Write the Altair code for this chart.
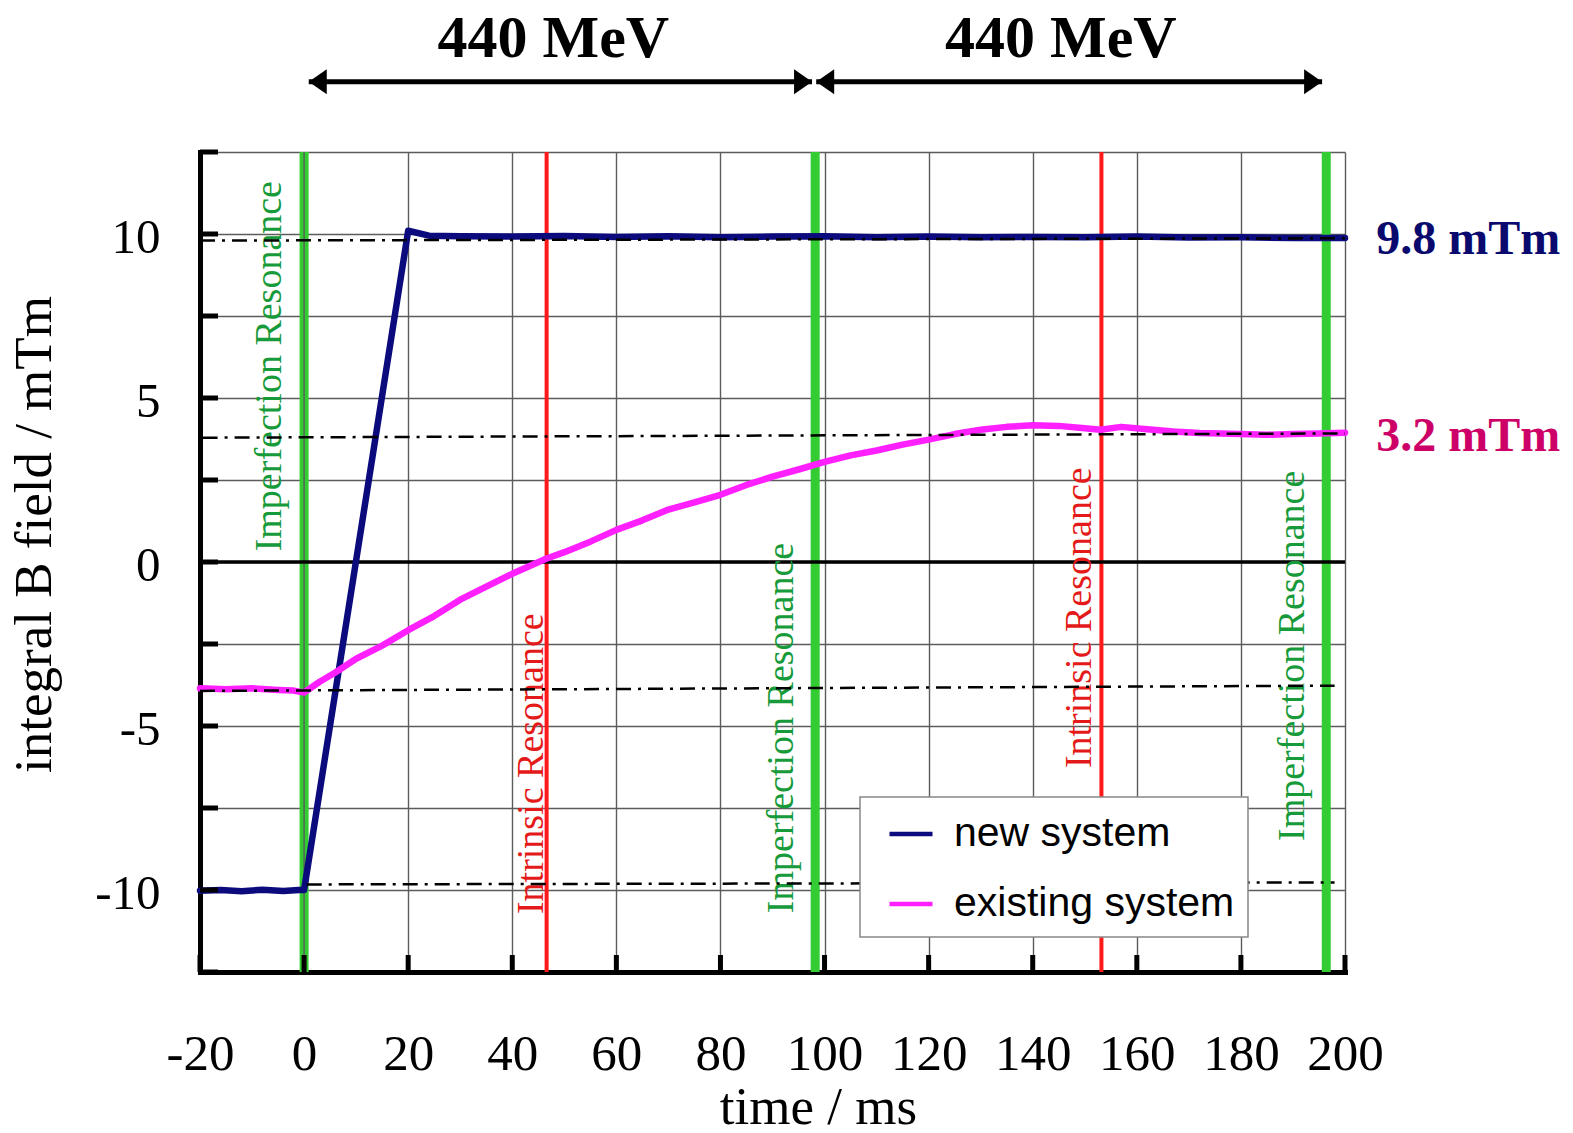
import altair as alt
import pandas as pd

# ---------------- data ----------------
new_t = [-20, -16, -12, -8, -4, -1, 0, 20, 24, 30, 40, 50, 60, 70, 80, 90, 100,
         110, 120, 130, 140, 150, 160, 170, 180, 190, 200]
new_v = [-10.02, -10.0, -10.04, -9.99, -10.03, -10.0, -10.0, 10.1, 9.95, 9.93, 9.92,
         9.94, 9.91, 9.93, 9.9, 9.92, 9.93, 9.9, 9.92, 9.9, 9.91, 9.9, 9.92, 9.89, 9.9,
         9.88, 9.88]

old_t = [-20, -15, -10, -5, -2, 0, 3, 6, 10, 15, 20, 25, 30, 35, 40, 46.5, 50, 55,
         60, 65, 70, 75, 80, 85, 90, 95, 100, 105, 110, 115, 120, 125, 130, 135, 140,
         145, 150, 153, 157, 162, 167, 172, 180, 185, 190, 195, 200]
old_v = [-3.85, -3.88, -3.85, -3.9, -3.92, -3.98, -3.65, -3.37, -2.95, -2.55, -2.08,
         -1.65, -1.15, -0.75, -0.36, 0.1, 0.3, 0.62, 0.98, 1.27, 1.6, 1.82, 2.05, 2.35,
         2.6, 2.82, 3.05, 3.25, 3.4, 3.58, 3.73, 3.9, 4.03, 4.12, 4.17, 4.15, 4.08, 4.03,
         4.12, 4.05, 3.98, 3.93, 3.9, 3.88, 3.9, 3.92, 3.94]

series_names = ["new system", "existing system"]
series_colors = ["#0b0b7d", "#ff1fff"]

green_t = [0, 98.2, 196.4]
red_t = [46.6, 153.2]

ref_x1 = [-20, -19.5, -20, 0.5]
ref_x2 = [200, 200, 198, 198]
ref_y1 = [9.80, 3.79, -3.93, -9.83]
ref_y2 = [9.87, 3.92, -3.77, -9.77]

imp_labels = ["Imperfection Resonance", "Imperfection Resonance", "Imperfection Resonance"]
imp_label_t = [-4.4, 94.0, 192.1]
imp_label_v = [5.97, -5.06, -2.86]
int_labels = ["Intrinsic Resonance", "Intrinsic Resonance"]
int_label_t = [45.9, 151.2]
int_label_v = [-6.15, -1.70]

x_ticks = [-20, 0, 20, 40, 60, 80, 100, 120, 140, 160, 180, 200]
y_ticks = [-12.5, -10, -7.5, -5, -2.5, 0, 2.5, 5, 7.5, 10, 12.5]

energy_labels = ["440 MeV", "440 MeV"]
energy_t = [47.9, 145.4]
energy_v = [15.4, 15.4]
arrow_t1 = [0.9, 98.4]
arrow_t2 = [97.6, 195.6]
arrow_v = [14.64, 14.64]

end_labels = ["9.8 mTm", "3.2 mTm"]
end_t = [206.0, 206.0]
end_v = [9.38, 3.38]
end_colors = ["#0a0a6e", "#cc0066"]

# ---------------- style ----------------
W, H = 1145, 820
SERIF = "Liberation Serif"
SANS = "Liberation Sans"
GRID = "#5c5c5c"
GREEN = "#33cc33"
GREEN_TXT = "#179a3a"
RED = "#ff1a1a"
RED_TXT = "#e41a1a"

xs = alt.Scale(domain=[-20, 200], nice=False, zero=False)
ys = alt.Scale(domain=[-12.5, 12.5], nice=False, zero=False)

x_axis = alt.Axis(
    values=x_ticks, grid=True, gridColor=GRID, gridWidth=1.4,
    domain=True, domainColor="black", domainWidth=5, domainCap="square",
    ticks=False, tickSize=0,
    labelFont=SERIF, labelFontSize=51, labelColor="black", labelPadding=97,
    labelBaseline="alphabetic", labelExpr="'' + datum.value",
    labelFlush=False, labelOverlap=False,
    title="time / ms", titleFont=SERIF, titleFontSize=53, titleFontWeight="normal",
    titleColor="black", titleX=618, titleY=151, titleBaseline="alphabetic",
    titleAlign="center",
)
y_axis = alt.Axis(
    values=y_ticks, grid=True, gridColor=GRID, gridWidth=1.4,
    domain=True, domainColor="black", domainWidth=5, domainCap="square",
    ticks=False, tickSize=0,
    labelFont=SERIF, labelFontSize=49, labelColor="black", labelPadding=40,
    labelBaseline="middle", labelOffset=3,
    labelExpr="datum.value % 5 == 0 ? '' + datum.value : ''",
    labelFlush=False, labelOverlap=False,
    title="integral B field / mTm", titleFont=SERIF, titleFontSize=53,
    titleFontWeight="normal", titleColor="black", titleAngle=270,
    titleX=-150, titleY=382, titleBaseline="alphabetic", titleAlign="center",
)


def X(field):
    return alt.X(field, scale=xs, axis=x_axis)


def Y(field):
    return alt.Y(field, scale=ys, axis=y_axis)


# ---------------- tables ----------------
curve_df = pd.DataFrame({
    "t": new_t + old_t,
    "v": new_v + old_v,
    "series": [series_names[0]] * len(new_t) + [series_names[1]] * len(old_t),
})
green_df = pd.DataFrame({"t": green_t})
red_df = pd.DataFrame({"t": red_t})
ref_df = pd.DataFrame({"t": ref_x1, "t2": ref_x2, "v": ref_y1, "v2": ref_y2})
imp_df = pd.DataFrame({"label": imp_labels, "t": imp_label_t, "v": imp_label_v})
int_df = pd.DataFrame({"label": int_labels, "t": int_label_t, "v": int_label_v})
xt_df = pd.DataFrame({"t": x_ticks})
yt_df = pd.DataFrame({"v": y_ticks})
energy_df = pd.DataFrame({"label": energy_labels, "t": energy_t, "v": energy_v})
arrow_df = pd.DataFrame({"t": arrow_t1, "t2": arrow_t2, "v": arrow_v})
head_r_df = pd.DataFrame({"t": arrow_t2, "v": arrow_v})
head_l_df = pd.DataFrame({"t": arrow_t1, "v": arrow_v})
end_df0 = pd.DataFrame({"label": end_labels[:1], "t": end_t[:1], "v": end_v[:1]})
end_df1 = pd.DataFrame({"label": end_labels[1:], "t": end_t[1:], "v": end_v[1:]})
zero_df = pd.DataFrame({"v": [0]})
grid0_df = pd.DataFrame({"t": [0]})

# ---------------- layers ----------------
green_rules = alt.Chart(green_df).mark_rule(color=GREEN, strokeWidth=9).encode(x=X("t:Q"))
red_rules = alt.Chart(red_df).mark_rule(color=RED, strokeWidth=4).encode(x=X("t:Q"))
grid0 = alt.Chart(grid0_df).mark_rule(color=GRID, strokeWidth=1.4).encode(x=X("t:Q"))
zero_line = alt.Chart(zero_df).mark_rule(color="black", strokeWidth=3.5).encode(y=Y("v:Q"))

imp_text = alt.Chart(imp_df).mark_text(
    angle=270, align="center", baseline="alphabetic", font=SERIF, fontSize=38,
    color=GREEN_TXT).encode(x=X("t:Q"), y=Y("v:Q"), text="label:N")
int_text = alt.Chart(int_df).mark_text(
    angle=270, align="center", baseline="alphabetic", font=SERIF, fontSize=38,
    color=RED_TXT).encode(x=X("t:Q"), y=Y("v:Q"), text="label:N")

curves = alt.Chart(curve_df).mark_line(strokeWidth=6.5, strokeJoin="round",
                                       strokeCap="round").encode(
    x=X("t:Q"),
    y=Y("v:Q"),
    color=alt.Color(
        "series:N",
        scale=alt.Scale(domain=series_names, range=series_colors),
        title=None,
        legend=alt.Legend(
            orient="none", legendX=660, legendY=645,
            symbolType="stroke", symbolStrokeWidth=4.5, symbolSize=1849,
            symbolOffset=14, labelOffset=19,
            labelFont=SANS, labelFontSize=41, labelColor="black", labelLimit=500,
            padding=13, rowPadding=26,
            fillColor="white", strokeColor="#888888", cornerRadius=0,
        ),
    ),
)

ref_lines = alt.Chart(ref_df).mark_rule(
    color="black", strokeWidth=2.5, strokeDash=[15, 7, 3, 7]).encode(
    x=X("t:Q"), x2="t2:Q", y=Y("v:Q"), y2="v2:Q")

y_tick_marks = alt.Chart(yt_df).mark_rule(color="black", strokeWidth=5).encode(
    y=Y("v:Q"), x=alt.value(0), x2=alt.value(18))
x_tick_marks = alt.Chart(xt_df).mark_rule(color="black", strokeWidth=5).encode(
    x=X("t:Q"), y=alt.value(H), y2=alt.value(H - 17))

arrows = alt.Chart(arrow_df).mark_rule(color="black", strokeWidth=5).encode(
    x=X("t:Q"), x2="t2:Q", y=Y("v:Q"))
head_r = alt.Chart(head_r_df).mark_point(
    shape="M1,0L-0.44,-1L-0.44,1Z", size=625, filled=True, opacity=1,
    color="black", xOffset=-12.5).encode(x=X("t:Q"), y=Y("v:Q"))
head_l = alt.Chart(head_l_df).mark_point(
    shape="M-1,0L0.44,-1L0.44,1Z", size=625, filled=True, opacity=1,
    color="black", xOffset=12.5).encode(x=X("t:Q"), y=Y("v:Q"))
energy_text = alt.Chart(energy_df).mark_text(
    align="center", baseline="alphabetic", font=SERIF, fontSize=60,
    fontWeight="bold", color="black").encode(x=X("t:Q"), y=Y("v:Q"), text="label:N")

end_text0 = alt.Chart(end_df0).mark_text(
    align="left", baseline="alphabetic", font=SERIF, fontSize=48,
    fontWeight="bold", color=end_colors[0]).encode(x=X("t:Q"), y=Y("v:Q"), text="label:N")
end_text1 = alt.Chart(end_df1).mark_text(
    align="left", baseline="alphabetic", font=SERIF, fontSize=48,
    fontWeight="bold", color=end_colors[1]).encode(x=X("t:Q"), y=Y("v:Q"), text="label:N")

chart = alt.layer(
    green_rules, red_rules, grid0, zero_line, imp_text, int_text,
    curves, ref_lines, y_tick_marks, x_tick_marks,
    arrows, head_r, head_l, energy_text, end_text0, end_text1,
).properties(
    width=W, height=H,
    autosize=alt.AutoSizeParams(type="none"),
    padding={"left": 200, "top": 152, "right": 1573 - 200 - W, "bottom": 1133 - 152 - H},
    background="white",
).configure_view(strokeWidth=0).configure_legend(strokeWidth=1.5)

chart.save("out.html", embed_options={"renderer": "svg", "actions": False})
